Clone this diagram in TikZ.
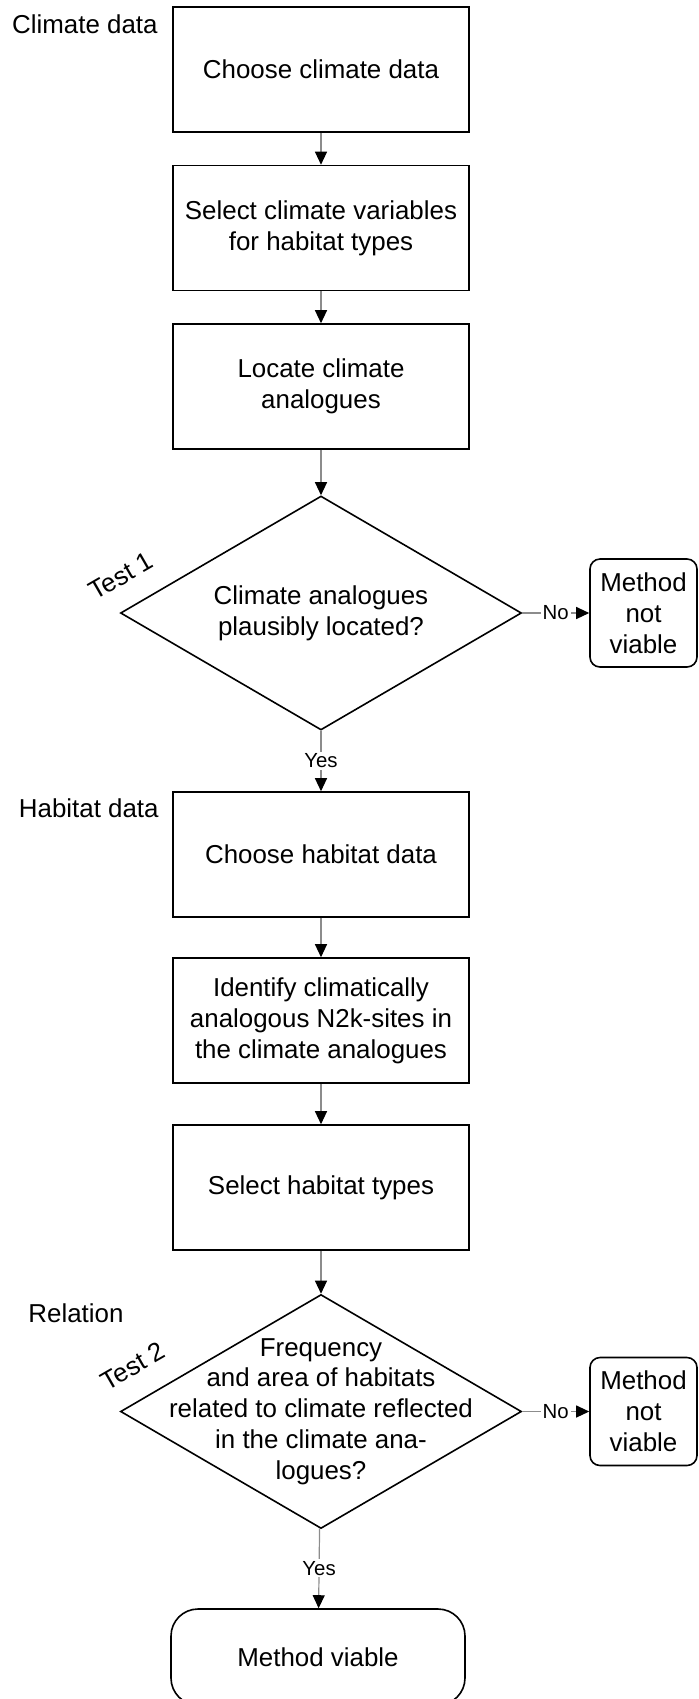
\documentclass[tikz,border=0pt]{standalone}
\usepackage{fontspec}
\setmainfont{Liberation Sans}
\usepackage{tikz}
\usetikzlibrary{shapes.geometric, arrows.meta}

\begin{document}
\begin{tikzpicture}[x=0.5pt, y=-0.5pt, inner sep=0pt,
	every node/.style={font=\fontsize{12.95}{15.4}\selectfont},
	proc/.style={draw, line width=0.8pt, minimum width=148pt, minimum height=62.5pt, align=center},
	test/.style={draw, diamond, line width=0.8pt, minimum width=200.5pt, minimum height=117pt},
	stopbox/.style={draw, rounded corners=5pt, line width=0.8pt, minimum width=53.5pt, minimum height=54pt, align=center},
	endbox/.style={draw, rounded corners=13.5pt, line width=0.8pt, minimum width=147pt, minimum height=48pt},
	conn/.style={draw=black!45, line width=0.6pt, -{Triangle[length=6.5pt, width=6pt, black]}},
	answer/.style={fill=white, inner sep=1pt, font=\fontsize{10.2}{12}\selectfont}]
	\useasboundingbox (0,0) rectangle (699,1699);

	\node[anchor=east] (L1) at (158,24) {Climate data};
	\node[anchor=east] (L2) at (159,808) {Habitat data};
	\node[] (L3) at (76,1313) {Relation};

	\node[proc] (B1) at (321,69.5) {Choose climate data};
	\node[proc] (B2) at (321,228) {Select climate variables\\for habitat types};
	\node[proc] (B3) at (321,386.5) {Locate climate\\analogues};

	\node[test] (T1) at (321,613) {};
	\node[align=center] (Q1) at (T1) {Climate analogues\\plausibly located?};
	\node[rotate=30] (R1) at (121,576) {Test 1};
	\node[stopbox] (N1) at (643.5,613) {Method\\not\\viable};

	\node[proc] (B4) at (321,854.5) {Choose habitat data};
	\node[proc] (B5) at (321,1020.5) {Identify climatically\\analogous N2k-sites in\\the climate analogues};
	\node[proc] (B6) at (321,1187.5) {Select habitat types};

	\node[test] (T2) at (321,1411.5) {};
	\node[align=center] (Q2) at (T2) {Frequency\\and area of habitats\\related to climate reflected\\in the climate ana-\\logues?};
	\node[rotate=30] (R2) at (133,1366) {Test 2};
	\node[stopbox] (N2) at (643.5,1411.5) {Method\\not\\viable};

	\node[endbox] (V) at (318,1657) {Method viable};

	\draw[conn] (B1) -- (B2);
	\draw[conn] (B2) -- (B3);
	\draw[conn] (B3) -- (T1);
	\draw[conn] (T1) -- node[answer] (No1) {No} (N1);
	\draw[conn] (T1) -- node[answer] (Yes1) {Yes} (B4);
	\draw[conn] (B4) -- (B5);
	\draw[conn] (B5) -- (B6);
	\draw[conn] (B6) -- (T2);
	\draw[conn] (T2) -- node[answer] (No2) {No} (N2);
	\draw[conn] (T2) -- node[answer] (Yes2) {Yes} (V);
\end{tikzpicture}
\end{document}
